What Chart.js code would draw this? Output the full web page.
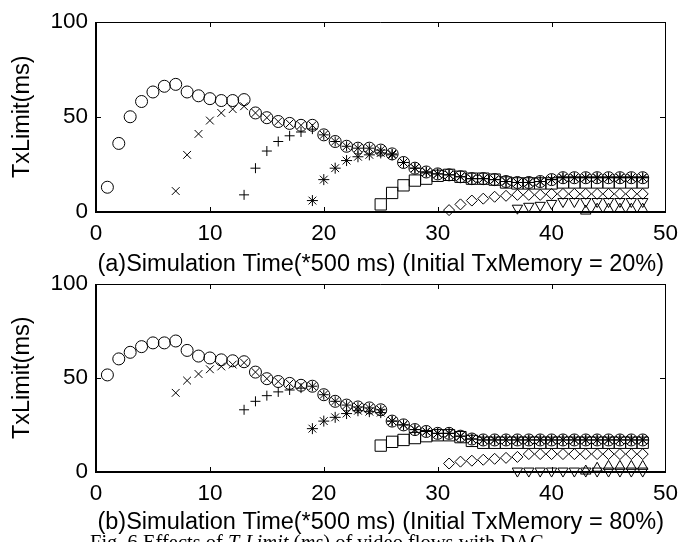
<!DOCTYPE html>
<html>
<head>
<meta charset="utf-8">
<script src="https://cdn.jsdelivr.net/npm/chart.js@4.4.1/dist/chart.umd.min.js"></script>
<style>
  html, body { margin: 0; padding: 0; background: #fff; overflow: hidden; }
  #wrap { position: relative; width: 686px; height: 542px; overflow: hidden; }
  canvas { position: absolute; left: 0; }
  #c1 { top: 0; }
  #c2 { top: 262px; }
  #caption {
    position: absolute; left: 90px; top: 531px;
    font-family: "Liberation Serif", "Times New Roman", serif;
    font-size: 20.5px; color: #000; white-space: nowrap;
  }
</style>
</head>
<body>
<div id="wrap">
  <canvas id="c1" width="686" height="280"></canvas>
  <canvas id="c2" width="686" height="280"></canvas>
  <div id="caption">Fig. 6 Effects of <i>T<sub style="font-size:13px">x</sub>Limit</i> (<i>ms</i>) of video flows with DAC</div>
</div>
<script>
// Eje X: tiempo de simulación (pasos de 500 ms), eje Y: TxLimit (ms)
const xTicks = [0, 10, 20, 30, 40, 50];
const yTicks = [0, 50, 100];

// (a) Initial TxMemory = 20% -- cada flujo empieza en un instante distinto
const aCircleStart = 1;
const aCircle = [13, 36, 50, 58, 63, 66, 67, 63, 61, 59.5,
  58.5, 58.5, 59, 52, 49.5, 47.5, 46.5, 45.5, 45.5, 40.5,
  37, 34.5, 33.5, 33.5, 32.5, 30.5, 26, 23, 21, 20,
  19.5, 18.5, 17.5, 17.5, 17, 16, 15.5, 15.5, 16, 17,
  18, 18, 18, 18, 18, 18, 18, 18];
const aCrossStart = 7;
const aCross = [11, 30, 41, 48, 52, 54, 55.5,
  52, 49.5, 47.5, 46.5, 45.5, 45.5, 40.5,
  37, 34.5, 33.5, 33.5, 32.5, 30.5, 26, 23, 21, 20,
  19.5, 18.5, 17.5, 17.5, 17, 16, 15.5, 15.5, 16, 17,
  18, 18, 18, 18, 18, 18, 18, 18];
const aPlusStart = 13;
const aPlus = [9, 23, 32, 37, 40, 42, 43.5, 40.5,
  37, 34.5, 33.5, 33.5, 32.5, 30.5, 26, 23, 21, 20,
  19.5, 18.5, 17.5, 17.5, 17, 16, 15.5, 15.5, 16, 17,
  18, 18, 18, 18, 18, 18, 18, 18];
const aStarStart = 19;
const aStar = [6, 17, 23, 27, 29, 30, 31, 30, 26, 23, 21, 20,
  19.5, 18.5, 17.5, 17.5, 17, 16, 15.5, 15.5, 16, 17,
  18, 18, 18, 18, 18, 18, 18, 18];
const aSquareStart = 25;
const aSquare = [4, 10, 14, 16.5, 17.5, 19, 19.5, 18.5, 17.5, 17.5, 17, 15.5,
  15, 15, 15, 15, 15.5, 15.5, 15.5, 15.5, 15.5, 15.5, 15.5, 15.5];
const aDiamondStart = 31;
const aDiamond = [1, 4, 6, 7, 8, 8.5, 9, 9, 9, 9.5, 9.5, 9.5, 9.5, 9.5, 9.5, 9.5, 9.5, 9.5];
const aTriDownStart = 37;
const aTriDown = [2, 3, 3.5, 4.5, 5.5, 5.5, 5.5, 5.5, 5.5, 5.5, 5.5, 5.5];
const aTriUpStart = 43;
const aTriUp = [0.5, 1.5, 1.5, 1.5, 1.5, 1.5];

// (b) Initial TxMemory = 80%
const bCircleStart = 1;
const bCircle = [51.5, 60, 63.5, 66.5, 68.5, 68.5, 69.5, 64.5, 61.5, 60.5,
  59.5, 59, 58.5, 53, 49.5, 48, 47, 46, 45.5, 41,
  37.5, 35.5, 34.5, 34, 33, 27, 25, 22.5, 21.5, 20.5,
  20.5, 19, 17.5, 17, 17, 17, 17, 17, 17, 17,
  17, 17, 17, 17, 17, 17, 17, 17];
const bCrossStart = 7;
const bCross = [42, 48.5, 52, 54.5, 56, 57, 58,
  53, 49.5, 48, 47, 46, 45.5, 41,
  37.5, 35.5, 34.5, 34, 33, 27, 25, 22.5, 21.5, 20.5,
  20.5, 19, 17.5, 17, 17, 17, 17, 17, 17, 17,
  17, 17, 17, 17, 17, 17, 17, 17];
const bPlusStart = 13;
const bPlus = [33, 37.5, 40.5, 42.5, 43.5, 44.5, 45.5, 41,
  37.5, 35.5, 34.5, 34, 33, 27, 25, 22.5, 21.5, 20.5,
  20.5, 19, 17.5, 17, 17, 17, 17, 17, 17, 17,
  17, 17, 17, 17, 17, 17, 17, 17];
const bStarStart = 19;
const bStar = [23, 27, 29, 31, 32.5, 32, 31.5, 27, 25, 22.5, 21.5, 20.5,
  20.5, 19, 17.5, 17, 17, 17, 17, 17, 17, 17,
  17, 17, 17, 17, 17, 17, 17, 17];
const bSquareStart = 25;
const bSquare = [14, 16, 17, 18, 19, 19.5, 19.5, 18.5, 16.5, 15.5, 15.5, 15.5,
  15.5, 15.5, 15.5, 15.5, 15.5, 15.5, 15.5, 15.5, 15.5, 15.5, 15.5, 15.5];
const bDiamondStart = 31;
const bDiamond = [4.5, 5.5, 6, 6.5, 7, 7.5, 8, 9.5, 9.5, 9.5, 9.5, 9.5, 9.5, 9.5, 9.5, 9.5, 9.5, 9.5];
const bTriDownStart = 37;
const bTriDown = [0.5, 0.5, 0.5, 0.5, 0.5, 0.5, 0.5, 0.5, 0.5, 0.5, 0.5, 0.5];
const bTriUpStart = 43;
const bTriUp = [0.5, 2, 3, 3, 3, 3];

const FONT = "'Liberation Sans', Arial, sans-serif";

// Convertir un arreglo de valores en puntos {x, y} a partir del instante inicial
function toPoints(start, values) {
    return values.map((v, i) => ({ x: start + i, y: v }));
}

// Estilo de cada marcador (como en MATLAB: o, x, +, *, s, d, v, ^)
function markerSet(style, start, values, radius, rotation) {
    return {
        data: toPoints(start, values),
        pointStyle: style,
        pointRadius: radius,
        pointRotation: rotation || 0,
        pointBorderColor: "#000",
        pointBackgroundColor: "rgba(0,0,0,0)",
        pointBorderWidth: 1,
        showLine: false,
        clip: false
    };
}

// Caja completa y marcas hacia adentro
const boxPlugin = {
    id: "boxPlugin",
    afterDraw(chart) {
        const { ctx, chartArea: a, scales } = chart;
        const L = Math.round(a.left), R = Math.round(a.right);
        const T = Math.round(a.top), B = Math.round(a.bottom);
        ctx.save();
        ctx.strokeStyle = "#000";
        ctx.lineWidth = 1;
        ctx.beginPath();
        ctx.moveTo(L, T + 0.5); ctx.lineTo(R + 0.5, T + 0.5);
        ctx.moveTo(R + 0.5, T); ctx.lineTo(R + 0.5, B);
        ctx.stroke();
        ctx.lineWidth = 2;
        ctx.beginPath();
        ctx.moveTo(L, T); ctx.lineTo(L, B + 1);
        ctx.moveTo(L - 1, B); ctx.lineTo(R + 1, B);
        ctx.stroke();
        ctx.lineWidth = 1;
        ctx.beginPath();
        scales.x.ticks.forEach(t => {
            const px = Math.round(scales.x.getPixelForValue(t.value)) + 0.5;
            ctx.moveTo(px, B); ctx.lineTo(px, B - 5);
            ctx.moveTo(px, T); ctx.lineTo(px, T + 5);
        });
        scales.y.ticks.forEach(t => {
            const py = Math.round(scales.y.getPixelForValue(t.value)) + 0.5;
            ctx.moveTo(L, py); ctx.lineTo(L + 5, py);
            ctx.moveTo(R, py); ctx.lineTo(R - 5, py);
        });
        ctx.stroke();
        ctx.restore();
    }
};

function makeChart(id, sets, title, padTop, xHeight, titlePad) {
    const ctx = document.getElementById(id).getContext("2d");
    return new Chart(ctx, {
        type: "scatter",
        data: { datasets: sets },
        options: {
            responsive: false,
            animation: false,
            devicePixelRatio: 1,
            layout: { padding: { top: padTop, right: 14, left: 0, bottom: 0 } },
            plugins: { legend: { display: false }, tooltip: { enabled: false } },
            scales: {
                x: {
                    type: "linear", min: 0, max: 50,
                    afterBuildTicks: s => { s.ticks = xTicks.map(v => ({ value: v })); },
                    afterFit: s => { s.height = xHeight; },
                    grid: { display: false, drawTicks: false },
                    border: { display: false },
                    ticks: { color: "#000", font: { family: FONT, size: 22.5 }, padding: 8, maxRotation: 0 },
                    title: {
                        display: true, text: title, color: "#000",
                        font: { family: FONT, size: 23.5 }, padding: { top: 0, bottom: titlePad }
                    }
                },
                y: {
                    type: "linear", min: 0, max: 100,
                    afterBuildTicks: s => { s.ticks = yTicks.map(v => ({ value: v })); },
                    afterFit: s => { s.width = 96; },
                    grid: { display: false, drawTicks: false },
                    border: { display: false },
                    ticks: { color: "#000", font: { family: FONT, size: 22.5 }, padding: 8 },
                    title: {
                        display: true, text: "TxLimit(ms)", color: "#000",
                        font: { family: FONT, size: 23.5 }, padding: { top: 8, bottom: 0 }
                    }
                }
            }
        },
        plugins: [boxPlugin]
    });
}

makeChart("c1", [
    markerSet("circle", aCircleStart, aCircle, 6),
    markerSet("crossRot", aCrossStart, aCross, 5.5),
    markerSet("cross", aPlusStart, aPlus, 5),
    markerSet("star", aStarStart, aStar, 5.5),
    markerSet("rect", aSquareStart, aSquare, 8),
    markerSet("rectRot", aDiamondStart, aDiamond, 5.5),
    markerSet("triangle", aTriDownStart, aTriDown, 6, 180),
    markerSet("triangle", aTriUpStart, aTriUp, 6)
], "(a)Simulation Time(*500 ms) (Initial TxMemory = 20%)", 21, 68, 1);

makeChart("c2", [
    markerSet("circle", bCircleStart, bCircle, 6),
    markerSet("crossRot", bCrossStart, bCross, 5.5),
    markerSet("cross", bPlusStart, bPlus, 5),
    markerSet("star", bStarStart, bStar, 5.5),
    markerSet("rect", bSquareStart, bSquare, 8),
    markerSet("rectRot", bDiamondStart, bDiamond, 5.5),
    markerSet("triangle", bTriDownStart, bTriDown, 6, 180),
    markerSet("triangle", bTriUpStart, bTriUp, 6)
], "(b)Simulation Time(*500 ms) (Initial TxMemory = 80%)", 20, 70, 5);
</script>
</body>
</html>
